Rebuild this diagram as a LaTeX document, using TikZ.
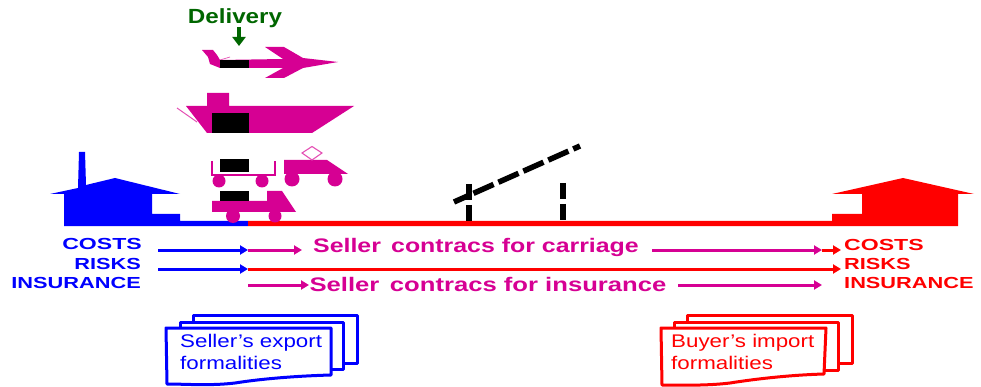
\documentclass[tikz,border=0pt]{standalone}
\usepackage{fontspec}
\usepackage{graphicx}
\setmainfont{Liberation Sans}
\newfontfamily\lblfont[FakeStretch=1.36,BoldFont={Liberation Sans Bold}]{Liberation Sans}
\newfontfamily\midfont[FakeStretch=1.27,BoldFont={Liberation Sans Bold}]{Liberation Sans}
\newfontfamily\docfont[FakeStretch=1.22]{Liberation Sans}
\newfontfamily\delfont[FakeStretch=1.18,BoldFont={Liberation Sans Bold}]{Liberation Sans}
\usetikzlibrary{arrows.meta}
\definecolor{mag}{RGB}{214,0,147}
\definecolor{magl}{RGB}{228,80,180}
\definecolor{dgreen}{RGB}{0,102,0}
\tikzset{
  lbl/.style={inner sep=0pt,font=\lblfont\bfseries\fontsize{16}{16}\selectfont},
  mid/.style={inner sep=0pt,text=mag,font=\midfont\bfseries\fontsize{19.6}{20}\selectfont},
  doc/.style={inner sep=0pt,anchor=west,font=\docfont\fontsize{18.3}{18}\selectfont},
  sheet/.style={line width=3pt,fill=white,line join=round},
  arr/.style={line width=3pt,-{Triangle[length=8pt,width=9pt]}},
  post/.style={line width=6.5pt,black,dash pattern=on 16pt off 5pt},
}
\begin{document}
\begin{tikzpicture}[x=1pt,y=-1pt]
\useasboundingbox (0,0) rectangle (981,387);
% ground lines and houses
\fill[blue] (64,226) -- (64,194) -- (50,194) -- (78,188) -- (79,152) -- (85,152) -- (86,185) -- (115,178) -- (180,194) -- (152,194) -- (152,214) -- (180,214) -- (180,221) -- (248,221) -- (248,226) -- cycle;
\fill[red] (248,221) -- (832,221) -- (832,214) -- (862,214) -- (862,194) -- (832,194) -- (903,178) -- (974,194) -- (958,194) -- (958,226) -- (248,226) -- cycle;
% delivery
\node[inner sep=0pt,text=dgreen,font=\delfont\bfseries\fontsize{20.5}{20}\selectfont] (del) at (235,18) {Delivery};
\coordinate (dela) at (239,27);
\coordinate (delb) at (239,46);
\draw[dgreen,line width=3.5pt,-{Triangle[length=9pt,width=13pt]}] (dela) -- (delb);
% plane
\fill[mag] (202,50) -- (213,50) -- (217,55) -- (220,60) -- (283,59) -- (265,47) -- (284,47) -- (303,58) -- (338,62) -- (303,68) -- (284,78) -- (265,78) -- (283,68) -- (220,68) -- (210,64) -- (208,57) -- cycle;
\draw[magl,line width=.7pt] (220,60) -- (230,57);
\fill[black] (220,60) rectangle (249,68);
% ship
\fill[mag] (186,106) -- (207,106) -- (207,93) -- (229,93) -- (229,106) -- (354,106) -- (312,133) -- (207,133) -- cycle;
\fill[black] (212,113) rectangle (249,133);
\draw[magl,line width=1pt] (177,108) -- (197,122);
% wagon
\draw[mag,line width=1.2pt] (212,161) -- (212,175) -- (275,175) -- (275,161);
\fill[black] (220,159) rectangle (249,172);
\fill[mag] (219,181) circle (6.5) (262,181) circle (6.5);
% locomotive
\fill[mag] (284,160) -- (327,160) -- (348,174) -- (284,174) -- cycle;
\fill[mag] (292,179) circle (7.5) (335,179) circle (7.5);
\draw[magl,line width=1.1pt] (302,153) -- (312,146.5) -- (322,153) -- (312,160) -- cycle;
% truck
\fill[mag] (212,201) -- (267,201) -- (267,191) -- (282,191) -- (296,212) -- (212,212) -- cycle;
\fill[black] (220,191) rectangle (249,201);
\fill[mag] (233,216) circle (7) (275,216) circle (6.5);
% dashed barrier
\coordinate (p1t) at (469,184);
\coordinate (p1b) at (469,221);
\coordinate (p2t) at (563,183);
\coordinate (p2b) at (563,220);
\coordinate (sla) at (454,202);
\coordinate (slb) at (580,146);
\draw[post] (p1t) -- (p1b);
\draw[post] (p2t) -- (p2b);
\draw[black,line width=5.5pt,dash pattern=on 22pt off 5.3pt,dash phase=6pt] (sla) -- (slb);
% labels
\node[lbl,text=blue,anchor=east] (c1) at (142,244) {\scalebox{1.06}[1]{COSTS}};
\node[lbl,text=blue,anchor=east] (r1) at (141,264) {RISKS};
\node[lbl,text=blue,anchor=east] (i1) at (141,283) {INSURANCE};
\node[lbl,text=red,anchor=west] (c2) at (844,245) {\scalebox{1.06}[1]{COSTS}};
\node[lbl,text=red,anchor=west] (r2) at (844,264) {RISKS};
\node[lbl,text=red,anchor=west] (i2) at (844,283) {INSURANCE};
\node[mid] (carr) at (476,247.5) {Seller\, contracs for carriage};
\node[mid] (insu) at (488,284) {\scalebox{1.03}[1]{Seller\, contracs for insurance}};
% arrows
\coordinate (a0) at (158,250);
\coordinate (a1) at (248,250);
\coordinate (a2) at (302,250);
\coordinate (b0) at (158,269);
\coordinate (b1) at (248,269);
\coordinate (d0) at (248,285);
\coordinate (d1) at (309,285);
\coordinate (e0) at (652,250);
\coordinate (e1) at (822,250);
\coordinate (f1) at (841,250);
\coordinate (g1) at (841,269);
\coordinate (h0) at (678,285);
\coordinate (h1) at (822,285);
\draw[arr,blue] (a0) -- (a1);
\draw[arr,blue] (b0) -- (b1);
\draw[arr,mag] (a1) -- (a2);
\draw[arr,red] (b1) -- (g1);
\draw[arr,mag] (d0) -- (d1);
\draw[arr,mag] (e0) -- (e1);
\draw[arr,red] (e1) -- (f1);
\draw[arr,mag] (h0) -- (h1);
% blue documents
\draw[sheet,draw=blue] (193,315) -- (357,315) -- (357,363) -- (193,363) -- cycle;
\draw[sheet,draw=blue] (180,322) -- (343,322) -- (343,369) -- (180,369) -- cycle;
\draw[sheet,draw=blue] (166,328) -- (331,328) -- (331,375) .. controls (295,376) and (260,379) .. (235,383) .. controls (210,386) and (185,384) .. (167,384) -- cycle;
\node[doc,text=blue] (bd1) at (180,343) {Seller’s export};
\node[doc,text=blue] (bd2) at (180,363) {formalities};
% red documents
\draw[sheet,draw=red] (687,315) -- (852,315) -- (852,363) -- (687,363) -- cycle;
\draw[sheet,draw=red] (674,322) -- (838,322) -- (838,370) -- (674,370) -- cycle;
\draw[sheet,draw=red] (661,328) -- (826,328) -- (824,374) .. controls (790,375) and (755,379) .. (730,383) .. controls (705,386) and (680,385) .. (662,385) -- cycle;
\node[doc,text=red] (rd1) at (671,343) {Buyer’s import};
\node[doc,text=red] (rd2) at (671,363) {formalities};
\end{tikzpicture}
\end{document}
